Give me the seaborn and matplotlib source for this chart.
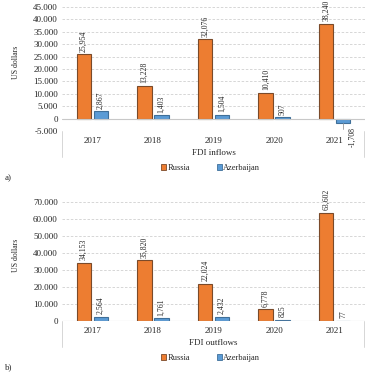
import pandas as pd
import matplotlib.pyplot as plt
import matplotlib.ticker as mticker
from matplotlib.lines import Line2D
import seaborn as sns

# FDI data (US dollars, millions)
years = ['2017', '2018', '2019', '2020', '2021']
countries = ['Russia', 'Azerbaijan']
russia_in = [25954, 13228, 32076, 10410, 38240]
azer_in = [2867, 1403, 1504, 507, -1708]
russia_out = [34153, 35820, 22024, 6778, 63602]
azer_out = [2564, 1761, 2432, 825, 77]

colors = {'Russia': '#ED7D31', 'Azerbaijan': '#5B9BD5'}
edges = {'Russia': '#7a4a2a', 'Azerbaijan': '#3f6f99'}

sns.set_style('white')
plt.rcParams['font.family'] = ['Liberation Serif', 'DejaVu Serif']


def make_df(rus, aze):
    return pd.DataFrame({
        'Year': years * 2,
        'Country': ['Russia'] * 5 + ['Azerbaijan'] * 5,
        'Value': rus + aze,
    })


def dot_fmt(v, pos):
    return f'{v:,.0f}'.replace(',', '.')


def draw_panel(ax, df, ylim, step, xlabel, letter, box_top, leg_y):
    sns.barplot(data=df, x='Year', y='Value', hue='Country', hue_order=countries,
                palette=colors, saturation=1, width=0.56, gap=0.15, ax=ax, legend=True)
    # bar outlines and value labels
    for cont, c in zip(ax.containers, countries):
        for bar in cont:
            bar.set_edgecolor(edges[c])
            bar.set_linewidth(0.8)
        vals = df[df['Country'] == c]['Value'].tolist()
        for bar, v in zip(cont, vals):
            x = bar.get_x() + bar.get_width() / 2
            txt = f'{v:,}'
            if v >= 0:
                ax.annotate(txt, (x, v), xytext=(0, 1.8), textcoords='offset points',
                            rotation=90, ha='center', va='bottom', fontsize=5.6)
            else:
                ax.annotate(txt, (x, v), xytext=(6.5, -10), textcoords='offset points',
                            rotation=90, ha='center', va='center', fontsize=5.6,
                            arrowprops=dict(arrowstyle='-', color='#999999', lw=0.6,
                                            shrinkA=6, shrinkB=0,
                                            connectionstyle='angle,angleA=0,angleB=90'))
    ax.set_ylim(*ylim)
    ax.yaxis.set_major_locator(mticker.MultipleLocator(step))
    ax.yaxis.set_major_formatter(mticker.FuncFormatter(dot_fmt))
    ax.grid(axis='y', color='#d0d0d0', linestyle=(0, (3, 2)), linewidth=0.6)
    ax.set_axisbelow(True)
    ax.axhline(0, color='#c8c8c8', linewidth=0.8, zorder=1)
    for s in ax.spines.values():
        s.set_visible(False)
    ax.tick_params(axis='both', length=0, labelsize=6.5, pad=3)
    ax.tick_params(axis='x', labelsize=6.5, pad=4)
    ax.set_ylabel('US dollars', fontsize=5.6)
    ax.yaxis.set_label_coords(-0.14, 0.55)
    ax.set_xlabel(xlabel, fontsize=6.5, labelpad=3)
    # category box below the plot
    for xf in (0.0, 0.997):
        ax.add_line(Line2D([xf, xf], [0, box_top], transform=ax.transAxes,
                           color='#d0d0d0', lw=0.6, clip_on=False))
    ax.legend(loc='center', bbox_to_anchor=(0.49, leg_y), ncol=2, frameon=False,
              fontsize=6, handlelength=0.6, handleheight=0.6, handletextpad=0.2,
              columnspacing=3.2)
    for h, c in zip(ax.get_legend().legend_handles, countries):
        h.set_edgecolor(edges[c])
        h.set_linewidth(0.6)
    ax.figure.text(5 / 366, letter, ax.get_label(), fontsize=6.5, va='center')


fig = plt.figure(figsize=(3.66, 3.72), dpi=100)
ax1 = fig.add_axes([62 / 366, 1 - 131 / 372, 303 / 366, 124 / 372], label='a)')
ax2 = fig.add_axes([62 / 366, 1 - 321 / 372, 303 / 366, 119 / 372], label='b)')

draw_panel(ax1, make_df(russia_in, azer_in), (-5000, 45000), 5000,
           'FDI inflows', 1 - 178 / 372, -26 / 124, -37 / 124)
draw_panel(ax2, make_df(russia_out, azer_out), (0, 70000), 10000,
           'FDI outflows', 1 - 367 / 372, -26 / 119, -37 / 119)

fig.savefig('out.png', dpi=100)
